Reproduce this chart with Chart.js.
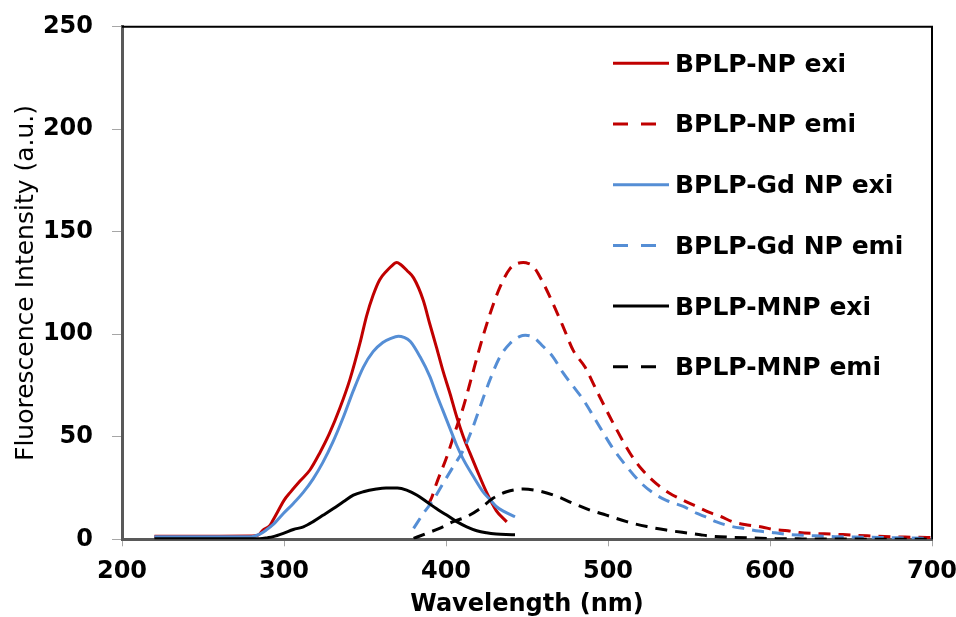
<!DOCTYPE html>
<html><head><meta charset="utf-8">
<script src="https://cdn.jsdelivr.net/npm/chart.js@4"></script>
<style>html,body{margin:0;padding:0;background:#fff;}#wrap{width:956px;height:617px;position:relative;}</style>
</head><body><div id="wrap"><canvas id="c" width="956" height="617"></canvas></div>
<script>
// ---- Data ----
const seriesLabels = ['BPLP-NP exi','BPLP-NP emi','BPLP-Gd NP exi','BPLP-Gd NP emi','BPLP-MNP exi','BPLP-MNP emi'];

const npExiWl = [220,240,260,280,284,287,291,293,296.5,300,304,310,316,322,328,334.5,340.7,347,351,355,359,363.5,366,369.6,372,376,380,386,390,394,398,402.5,406.5,410.7,414.8,419,425,431,437.5];
const npExiI  = [1.5,1.5,1.5,1.6,2,4.5,6.5,9,14,19,23,28.5,33.8,42,51.5,64,78,96,109,119,126.5,131,133,135,134,131,127.5,116.5,105,94,82.5,71,60,50,42,34,23,14,8.5];

const npEmiWl = [389,391,394,400.4,405.6,410.7,415.8,421,427.2,433.3,439.5,444,447.7,451,454,460,466,472.4,478.6,485.8,493,503.3,513.6,521,530,538,546.5,554.7,563,570,577,586,595,602,611,618,630,645,660,675,690,700];
const npEmiI  = [17,20,27,40,52.5,64.5,79,94,110,123,132,134.5,135,134.5,133,125,115,103.5,92,84,72.5,56.5,42,34,27,22.5,19,16,13,11,8.5,7,6,4.8,4.2,3.3,2.8,2.3,1.7,1.2,1,0.8];

const gdExiWl = [220,240,260,280,285,289,293,299.6,305.8,312,318,324,330.5,336.6,342.8,349,355,361,366,370.6,374,378,384,390,394,398,402.5,406.5,410.7,417,423,427,431,436,442.6];
const gdExiI  = [1.2,1.2,1.2,1.3,2.5,4.5,7,12.6,17.5,23,29.5,37.5,48,59.5,72.5,84,91.5,96,98,99,98.5,96.5,89,79.5,71,63,54,46,39,30.5,23,19.5,16,13.5,11];

const gdEmiWl = [380,386,392,398,404.5,410.7,415.8,421,427,433.3,439.5,445.7,449,454,460,466,472.4,478.6,484.8,491,497,503.3,511.5,519.7,528,536,546.5,555,560,567,575,586,593,603,610,620,628,640,660,680,700];
const gdEmiI  = [5.3,12.6,19,27,35.5,43.5,53,64.5,77.5,89,95.5,99,99.5,98.5,94,89,81,74.5,68,60,52,44,35.5,28,22.5,19,16,12.6,11,8.5,6.5,5,4,3.2,2.4,2,1.7,1.3,1,0.7,0.5];

const mnpExiWl = [220,285,290,293.4,299.6,305.8,312,318,324.3,330.5,336.6,342.8,349,357,363,370,375.7,381.9,388,394,400.4,406.6,412.8,419,425,431,437,442.6];
const mnpExiI  = [0.3,0.3,0.8,1.3,2.9,4.8,6.1,8.6,11.8,15,18.3,21.5,23.2,24.5,25,25,24,21.6,18.3,15,11.8,8.6,6.1,4.2,3.2,2.6,2.3,2.2];

const mnpEmiWl = [380,388,396,404.5,412.7,421,429,437.4,447.7,458,468.3,478.6,489,499,511.5,524,536,550.6,557,563,575,590,605,620,650,700];
const mnpEmiI  = [0.4,2.9,5.3,8.6,11,15,20,23.2,24.5,23.5,21,17.5,14.2,11.8,8.6,6.2,4.5,2.9,2.2,1.6,1,0.6,0.3,0.2,0.1,0];

const xTicks = [200,300,400,500,600,700];
const yTicks = [0,50,100,150,200,250];

// ---- Styles ----
const RED = '#C00000', BLUE = '#558ED5', BLACK = '#000000';
const colors = [RED, RED, BLUE, BLUE, BLACK, BLACK];
const dashed = [false, true, false, true, false, true];
const wls = [npExiWl, npEmiWl, gdExiWl, gdEmiWl, mnpExiWl, mnpEmiWl];
const vals = [npExiI, npEmiI, gdExiI, gdEmiI, mnpExiI, mnpEmiI];

const datasets = seriesLabels.map((lab, i) => ({
  label: lab,
  data: wls[i].map((w, k) => ({x: w, y: vals[i][k]})),
  borderColor: colors[i],
  backgroundColor: colors[i],
  borderWidth: 3,
  borderDash: dashed[i] ? [12, 8] : [],
  pointRadius: 0,
  fill: false,
  cubicInterpolationMode: 'monotone',
  order: seriesLabels.length - 1 - i
}));

const FONT = '"DejaVu Sans", "Liberation Sans", Arial, sans-serif';

function noAutoPadding(scale) {
  scale.paddingTop = 0; scale.paddingBottom = 0;
  scale.paddingLeft = 0; scale.paddingRight = 0;
}

const framePlugin = {
  id: 'frame',
  beforeDatasetsDraw(chart) {
    const {ctx, chartArea: {left, right, top, bottom}} = chart;
    ctx.save();
    ctx.strokeStyle = '#000';
    ctx.lineWidth = 2;
    ctx.beginPath();
    ctx.moveTo(left, top);
    ctx.lineTo(right, top);
    ctx.lineTo(right, bottom);
    ctx.stroke();
    ctx.restore();
  }
};

const legendPlugin = {
  id: 'insideLegend',
  afterDatasetsDraw(chart) {
    const ctx = chart.ctx;
    ctx.save();
    ctx.font = 'bold 25px ' + FONT;
    ctx.textBaseline = 'alphabetic';
    ctx.textAlign = 'left';
    chart.data.datasets.forEach((ds, i) => {
      const yLine = 63.3 + i * 60.7;
      const yText = 71.7 + i * 60.7;
      ctx.strokeStyle = ds.borderColor;
      ctx.lineWidth = 3;
      ctx.setLineDash(ds.borderDash.length ? [15, 13] : []);
      ctx.beginPath();
      ctx.moveTo(613, yLine);
      ctx.lineTo(ds.borderDash.length ? 656 : 669, yLine);
      ctx.stroke();
      ctx.setLineDash([]);
      ctx.fillStyle = '#000';
      ctx.fillText(ds.label, 675, yText);
    });
    ctx.restore();
  }
};

new Chart(document.getElementById('c'), {
  type: 'line',
  data: { datasets },
  plugins: [framePlugin, legendPlugin],
  options: {
    responsive: false,
    animation: false,
    devicePixelRatio: 1,
    layout: { padding: { top: 26.7, right: 24, left: 0, bottom: 0 } },
    plugins: { legend: { display: false }, tooltip: { enabled: false } },
    scales: {
      x: {
        type: 'linear',
        min: 200, max: 700,
        afterBuildTicks(scale) { scale.ticks = xTicks.map(v => ({value: v})); },
        afterFit(scale) { scale.height = 77.7; noAutoPadding(scale); },
        ticks: { color: '#000', font: { family: FONT, size: 24, weight: 'bold' }, padding: 11, maxRotation: 0 },
        grid: { drawOnChartArea: false, drawTicks: true, tickLength: 7, color: '#a6a6a6', lineWidth: 1 },
        border: { color: '#595959', width: 3 },
        title: { display: true, text: 'Wavelength (nm)', color: '#000', font: { family: FONT, size: 24, weight: 'bold', lineHeight: 1 }, padding: { top: 0, bottom: 0 } }
      },
      y: {
        min: 0, max: 250,
        afterBuildTicks(scale) { scale.ticks = yTicks.map(v => ({value: v})); },
        afterFit(scale) { scale.width = 122; noAutoPadding(scale); },
        ticks: { color: '#000', font: { family: FONT, size: 24, weight: 'bold' }, padding: 19 },
        grid: { drawOnChartArea: false, drawTicks: true, tickLength: 10, color: '#a6a6a6', lineWidth: 1 },
        border: { color: '#595959', width: 3 },
        title: { display: true, text: 'Fluorescence Intensity (a.u.)', color: '#000', font: { family: FONT, size: 25, weight: 'normal', lineHeight: 1.2 }, padding: { top: 11, bottom: 0 } }
      }
    }
  }
});
</script>
</body></html>
